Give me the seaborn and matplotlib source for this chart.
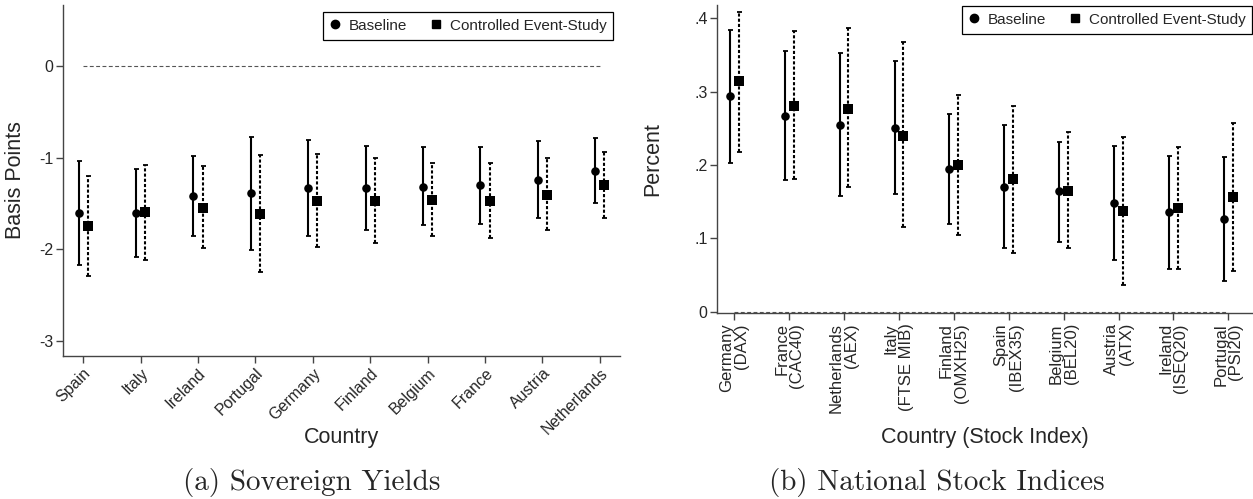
import numpy as np
import pandas as pd
import matplotlib
matplotlib.use("Agg")
import matplotlib.pyplot as plt
import seaborn as sns
from matplotlib.lines import Line2D

# ---------------- data ----------------
yield_countries = ["Spain", "Italy", "Ireland", "Portugal", "Germany",
                   "Finland", "Belgium", "France", "Austria", "Netherlands"]
yield_base_est = [-1.60, -1.60, -1.42, -1.39, -1.33, -1.33, -1.32, -1.30, -1.24, -1.15]
yield_base_hi = [-1.04, -1.12, -0.98, -0.78, -0.81, -0.87, -0.89, -0.89, -0.82, -0.79]
yield_base_lo = [-2.17, -2.08, -1.86, -2.01, -1.86, -1.79, -1.73, -1.72, -1.66, -1.50]
yield_ctrl_est = [-1.75, -1.59, -1.55, -1.61, -1.47, -1.47, -1.46, -1.47, -1.41, -1.30]
yield_ctrl_hi = [-1.20, -1.08, -1.09, -0.97, -0.96, -1.01, -1.06, -1.06, -1.01, -0.94]
yield_ctrl_lo = [-2.29, -2.12, -1.99, -2.25, -1.97, -1.93, -1.86, -1.88, -1.79, -1.66]

stock_labels = ["Germany\n(DAX)", "France\n(CAC40)", "Netherlands\n(AEX)", "Italy\n(FTSE MIB)",
                "Finland\n(OMXH25)", "Spain\n(IBEX35)", "Belgium\n(BEL20)", "Austria\n(ATX)",
                "Ireland\n(ISEQ20)", "Portugal\n(PSI20)"]
stock_base_est = [0.294, 0.267, 0.255, 0.251, 0.194, 0.170, 0.164, 0.148, 0.136, 0.126]
stock_base_hi = [0.384, 0.355, 0.352, 0.342, 0.269, 0.254, 0.232, 0.226, 0.212, 0.211]
stock_base_lo = [0.203, 0.179, 0.158, 0.161, 0.119, 0.087, 0.095, 0.071, 0.059, 0.042]
stock_ctrl_est = [0.314, 0.281, 0.277, 0.240, 0.200, 0.181, 0.165, 0.137, 0.141, 0.156]
stock_ctrl_hi = [0.408, 0.382, 0.386, 0.367, 0.295, 0.281, 0.245, 0.238, 0.225, 0.257]
stock_ctrl_lo = [0.218, 0.181, 0.170, 0.115, 0.104, 0.080, 0.087, 0.036, 0.058, 0.056]

yield_yticks = [0, -1, -2, -3]
yield_yticklabels = ["0", "-1", "-2", "-3"]
stock_yticks = [0, 0.1, 0.2, 0.3, 0.4]
stock_yticklabels = ["0", ".1", ".2", ".3", ".4"]

MODELS = ["Baseline", "Controlled Event-Study"]


def make_df(cats, be, bl, bh, ce, cl, ch):
    rows = []
    for i, c in enumerate(cats):
        rows.append(dict(cat=c, pos=i, model=MODELS[0], est=be[i], lo=bl[i], hi=bh[i]))
        rows.append(dict(cat=c, pos=i, model=MODELS[1], est=ce[i], lo=cl[i], hi=ch[i]))
    return pd.DataFrame(rows)


df_y = make_df(yield_countries, yield_base_est, yield_base_lo, yield_base_hi,
               yield_ctrl_est, yield_ctrl_lo, yield_ctrl_hi)
df_s = make_df(stock_labels, stock_base_est, stock_base_lo, stock_base_hi,
               stock_ctrl_est, stock_ctrl_lo, stock_ctrl_hi)

# ---------------- style ----------------
sns.set_style("ticks")
plt.rcParams["font.family"] = ["Liberation Sans", "DejaVu Sans"]
plt.rcParams["axes.unicode_minus"] = False

fig = plt.figure(figsize=(12.53, 4.99), dpi=100)
ax1 = fig.add_axes([63 / 1253, 143 / 499, 557 / 1253, 351 / 499])
ax2 = fig.add_axes([717.3 / 1253, 185.7 / 499, 535.7 / 1253, 308.3 / 499])

OFF = 0.08
styles = {MODELS[0]: dict(dx=-OFF, marker="o", ls="-", s=38),
          MODELS[1]: dict(dx=OFF, marker="s", ls=(0, (1.5, 1.0)), s=44)}
SPINE = "#444444"


def draw(ax, df):
    df = df.copy()
    df["x"] = df["pos"] + df["model"].map({m: styles[m]["dx"] for m in MODELS})
    n = df["pos"].max()
    ax.hlines(0, 0, n, colors="#555555", linestyles=(0, (3.5, 2.2)), linewidth=0.8, zorder=1)
    for m in MODELS:
        sub = df[df["model"] == m]
        st = styles[m]
        cont = ax.errorbar(sub["x"], sub["est"],
                           yerr=[sub["est"] - sub["lo"], sub["hi"] - sub["est"]],
                           fmt="none", ecolor="black", elinewidth=1.5, capsize=1.8,
                           capthick=1.3, zorder=2)
        for bc in cont.lines[2]:
            bc.set_linestyle(st["ls"])
        sns.scatterplot(x=sub["x"].values, y=sub["est"].values, marker=st["marker"], s=st["s"],
                        color="black", edgecolor="black", linewidth=0, ax=ax, legend=False,
                        zorder=3)


draw(ax1, df_y)
draw(ax2, df_s)

for ax in (ax1, ax2):
    sns.despine(ax=ax)
    for sp in ("left", "bottom"):
        ax.spines[sp].set_color(SPINE)
        ax.spines[sp].set_linewidth(1.0)
    ax.tick_params(axis="both", direction="out", length=5, width=1.0, color=SPINE,
                   labelsize=11.5, pad=2)

ax1.set_xlim(-0.35, 9.35)
ax1.set_ylim(-3.163, 0.663)
ax1.set_xticks(range(len(yield_countries)))
ax1.set_xticklabels(yield_countries, rotation=45, ha="right", rotation_mode="anchor",
                    fontsize=11.5)
ax1.set_yticks(yield_yticks)
ax1.set_yticklabels(yield_yticklabels)
ax1.set_xlabel("Country", fontsize=15.5)
ax1.set_ylabel("Basis Points", fontsize=15.5)
ax1.xaxis.set_label_coords(0.5, -0.202)
ax1.yaxis.set_label_coords(-0.066, 0.5)

ax2.set_xlim(-0.31, 9.45)
ax2.set_ylim(-0.002, 0.418)
ax2.set_xticks(range(len(stock_labels)))
ax2.set_xticklabels(stock_labels, rotation=90, ha="center", va="top", multialignment="right",
                    linespacing=1.0, fontsize=12)
ax2.set_yticks(stock_yticks)
ax2.set_yticklabels(stock_yticklabels)
ax2.set_xlabel("Country (Stock Index)", fontsize=15.5)
ax2.set_ylabel("Percent", fontsize=15.5)
ax2.xaxis.set_label_coords(0.5, -0.370)
ax2.yaxis.set_label_coords(-0.101, 0.5)

handles = [Line2D([], [], marker="o", color="black", ls="none", ms=6.0),
           Line2D([], [], marker="s", color="black", ls="none", ms=6.0)]
for ax, bpad in ((ax1, 0.45), (ax2, 0.05)):
    leg = ax.legend(handles, MODELS, ncol=2, loc="upper right", bbox_to_anchor=(1.0, 1.0),
                    fontsize=11, frameon=True, fancybox=False, handlelength=0.6,
                    handletextpad=0.6, columnspacing=1.6, borderpad=0.45,
                    borderaxespad=bpad)
    leg.get_frame().set_edgecolor("black")
    leg.get_frame().set_linewidth(0.9)
    leg.get_frame().set_alpha(1)

fig.text(440 / 1253, 9 / 499, "(a) Sovereign Yields", ha="right", va="baseline", fontsize=21,
         family="cmr10")
fig.text(1105 / 1253, 9 / 499, "(b) National Stock Indices", ha="right", va="baseline",
         fontsize=21, family="cmr10")

fig.savefig("out.png", dpi=100)
